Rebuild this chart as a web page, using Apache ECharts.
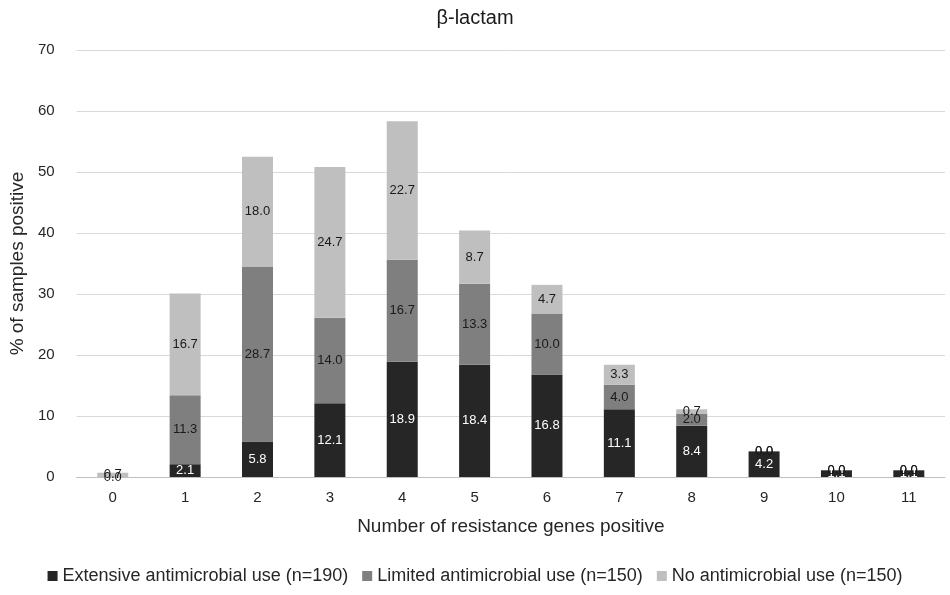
<!DOCTYPE html>
<html><head><meta charset="utf-8">
<script src="https://cdn.jsdelivr.net/npm/echarts@6/dist/echarts.min.js"></script>
<style>html,body{margin:0;padding:0;background:#fff}#c{width:950px;height:595px}</style>
</head><body><div id="c"></div>
<script>
const categories = ['0','1','2','3','4','5','6','7','8','9','10','11'];
const extensive = [0.0, 2.1, 5.8, 12.1, 18.9, 18.4, 16.8, 11.1, 8.4, 4.2, 1.1, 1.1];
const limited   = [0.0, 11.3, 28.7, 14.0, 16.7, 13.3, 10.0, 4.0, 2.0, 0.0, 0.0, 0.0];
const noUse     = [0.7, 16.7, 18.0, 24.7, 22.7, 8.7, 4.7, 3.3, 0.7, 0.0, 0.0, 0.0];
const seriesNames = ['Extensive antimicrobial use (n=190)', 'Limited antimicrobial use (n=150)', 'No antimicrobial use (n=150)'];
const colors = ['#262626', '#7f7f7f', '#bfbfbf'];
const labelColors = ['#ffffff', '#1a1a1a', '#1a1a1a'];
const FONT = 'Liberation Sans, Arial, sans-serif';

const chart = echarts.init(document.getElementById('c'));
const mk = (name, data, i) => ({
  name, type: 'bar', stack: 'a', data, barWidth: 31,
  itemStyle: { color: colors[i] },
  label: { show: true, position: 'inside', color: labelColors[i], fontFamily: FONT, fontSize: 13,
    formatter: p => p.value.toFixed(1) }
});
chart.setOption({
  animation: false,
  title: { text: 'β-lactam', left: 'center', top: 3, textStyle: { fontFamily: FONT, fontSize: 20, fontWeight: 'normal', color: '#1a1a1a' } },
  legend: { bottom: 5, left: 'center', itemWidth: 10, itemHeight: 10, itemGap: 14, icon: 'rect',
    textStyle: { fontFamily: FONT, fontSize: 18, color: '#262626' }, data: seriesNames },
  grid: { left: 63, right: 5, top: 50, bottom: 118 },
  xAxis: { type: 'category', data: categories,
    name: 'Number of resistance genes positive', nameLocation: 'middle', nameGap: 40,
    nameTextStyle: { fontFamily: FONT, fontSize: 19, color: '#262626' },
    axisLine: { lineStyle: { color: '#bfbfbf' } }, axisTick: { show: false },
    axisLabel: { fontFamily: FONT, fontSize: 15, color: '#262626', margin: 13 } },
  yAxis: { type: 'value', min: 0, max: 70, interval: 10,
    name: '% of samples positive', nameLocation: 'middle', nameGap: 42,
    nameTextStyle: { fontFamily: FONT, fontSize: 19, color: '#262626' },
    axisLine: { show: false }, axisTick: { show: false },
    axisLabel: { fontFamily: FONT, fontSize: 15, color: '#262626', margin: 22 },
    splitLine: { lineStyle: { color: '#d9d9d9' } } },
  series: [mk(seriesNames[0], extensive, 0), mk(seriesNames[1], limited, 1), mk(seriesNames[2], noUse, 2)]
});
</script></body></html>
